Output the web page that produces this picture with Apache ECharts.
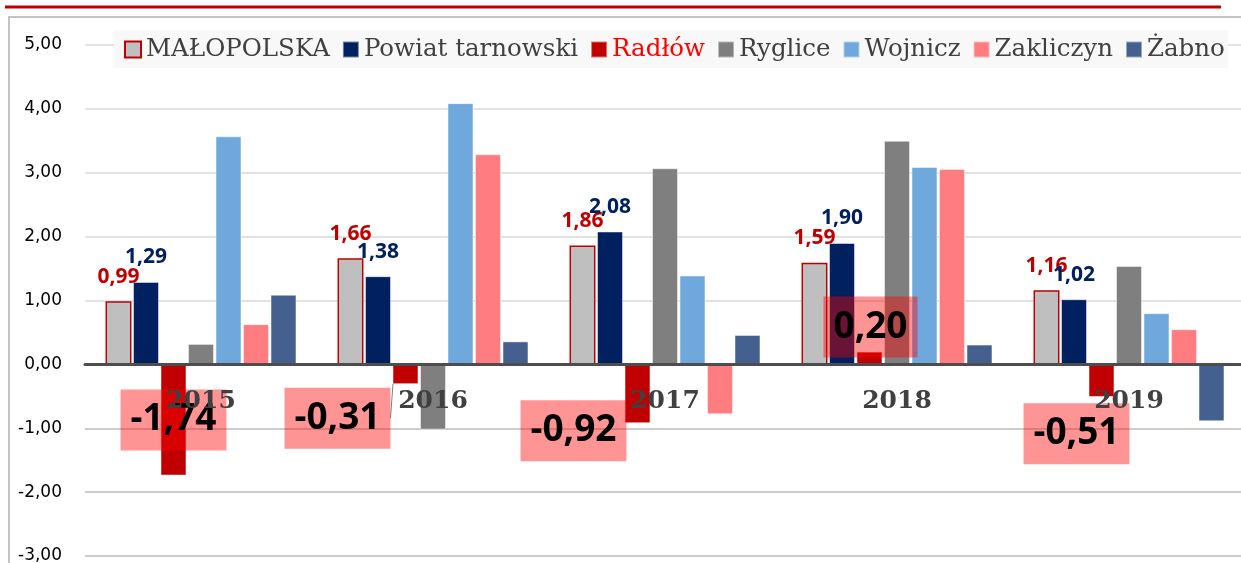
<!DOCTYPE html>
<html>
<head>
<meta charset="utf-8">
<script src="https://cdn.jsdelivr.net/npm/echarts@6/dist/echarts.min.js"></script>
<style>
  html, body { margin: 0; padding: 0; background: #fff; }
  #diagram { width: 1241px; height: 563px; }
</style>
</head>
<body>
<div id="diagram"></div>
<script>
var years = ["2015", "2016", "2017", "2018", "2019"];
var malopolska = [0.99, 1.66, 1.86, 1.59, 1.16];
var powiat = [1.29, 1.38, 2.08, 1.90, 1.02];
var radlow = [-1.74, -0.31, -0.92, 0.20, -0.51];
var ryglice = [0.32, -1.02, 3.07, 3.50, 1.54];
var wojnicz = [3.57, 4.09, 1.39, 3.09, 0.80];
var zakliczyn = [0.63, 3.29, -0.78, 3.06, 0.55];
var zabno = [1.09, 0.36, 0.46, 0.31, -0.89];

// Radłów labels were dragged by hand in the original
var radlowOffsets = [[0, 0], [-68, 44], [-64, 37], [1, -31], [-25, 53]];

function fmt(v) {
  return v.toFixed(2).replace(".", ",");
}

var softBorder = "rgba(255,255,255,0.45)";

function smallLabel(color) {
  return {
    show: true,
    position: "top",
    distance: 14,
    color: color,
    fontFamily: "Open Sans",
    fontWeight: "bold",
    fontSize: 21,
    formatter: function (p) { return fmt(p.value); }
  };
}

var myChart = echarts.init(document.getElementById("diagram"));
var option = {
  animation: false,
  color: ["#BFBFBF", "#002060", "#C00000", "#7F7F7F", "#6FA8DC", "#FF7C80", "#44608E"],
  graphic: [
    {
      type: "rect",
      shape: { x: 9, y: 17, width: 1240, height: 560 },
      style: { fill: null, stroke: "#C4C4C4", lineWidth: 2 }
    },
    {
      type: "line",
      shape: { x1: 5, y1: 7, x2: 1221, y2: 7 },
      style: { stroke: "#C00000", lineWidth: 3 }
    }
  ],
  legend: {
    left: 114,
    top: 30,
    width: 1200,
    padding: [7, 3, 6, 10],
    backgroundColor: "#F8F8F8",
    itemWidth: 16,
    itemHeight: 16,
    itemGap: 12,
    icon: "rect",
    textStyle: { fontFamily: "DejaVu Serif", fontSize: 24.5, color: "#404040" },
    data: [
      "MAŁOPOLSKA",
      "Powiat tarnowski",
      { name: "Radłów", textStyle: { color: "#FF0000" } },
      "Ryglice",
      "Wojnicz",
      "Zakliczyn",
      "Żabno"
    ]
  },
  grid: {
    left: 85, top: 45, width: 1160, bottom: 7,
    containLabel: false,
    outerBoundsMode: "none"
  },
  xAxis: {
    type: "category",
    data: years,
    z: 6,
    position: "bottom",
    offset: -191.5,
    axisTick: { show: false },
    axisLine: { onZero: false, lineStyle: { color: "#4D4D4D", width: 3 } },
    axisLabel: {
      margin: 24,
      fontFamily: "DejaVu Serif",
      fontWeight: "bold",
      fontSize: 25,
      color: "#404040"
    }
  },
  yAxis: {
    type: "value",
    min: -3,
    max: 5,
    interval: 1,
    axisLine: { show: false },
    axisTick: { show: false },
    axisLabel: {
      margin: 23,
      fontFamily: "DejaVu Sans",
      fontSize: 17,
      color: "#000",
      formatter: fmt
    },
    splitLine: {
      lineStyle: {
        width: 1.5,
        color: ["#BDBDBD", "#BDBDBD", "#BDBDBD", "#BDBDBD",
                "#D9D9D9", "#D9D9D9", "#D9D9D9", "#D9D9D9", "#D9D9D9"]
      }
    }
  },
  series: [
    {
      name: "MAŁOPOLSKA",
      type: "bar",
      barGap: "6%",
      barCategoryGap: "17.7%",
      data: malopolska,
      itemStyle: { borderColor: "#C00000", borderWidth: 1.5 },
      label: smallLabel("#C00000")
    },
    {
      name: "Powiat tarnowski",
      type: "bar",
      data: powiat,
      itemStyle: { borderColor: softBorder, borderWidth: 1 },
      label: smallLabel("#002060")
    },
    {
      name: "Radłów",
      type: "bar",
      z: 4,
      data: radlow.map(function (v, i) {
        var item = { value: v, label: { offset: radlowOffsets[i] } };
        if (i === 1) {
          item.labelLine = { show: true, lineStyle: { color: "#7F7F7F", width: 1 } };
        }
        return item;
      }),
      itemStyle: { borderColor: softBorder, borderWidth: 1 },
      label: {
        show: true,
        position: "inside",
        fontFamily: "Open Sans",
        fontWeight: "bold",
        fontSize: 37,
        lineHeight: 37,
        color: "#000",
        backgroundColor: "rgba(255,0,0,0.42)",
        padding: [12, 10],
        formatter: function (p) { return fmt(p.value); }
      }
    },
    {
      name: "Ryglice",
      type: "bar",
      data: ryglice,
      itemStyle: { borderColor: softBorder, borderWidth: 1 }
    },
    {
      name: "Wojnicz",
      type: "bar",
      data: wojnicz,
      itemStyle: { borderColor: softBorder, borderWidth: 1 }
    },
    {
      name: "Zakliczyn",
      type: "bar",
      data: zakliczyn,
      itemStyle: { borderColor: softBorder, borderWidth: 1 }
    },
    {
      name: "Żabno",
      type: "bar",
      data: zabno,
      itemStyle: { borderColor: softBorder, borderWidth: 1 }
    }
  ]
};
myChart.setOption(option);
</script>
</body>
</html>
